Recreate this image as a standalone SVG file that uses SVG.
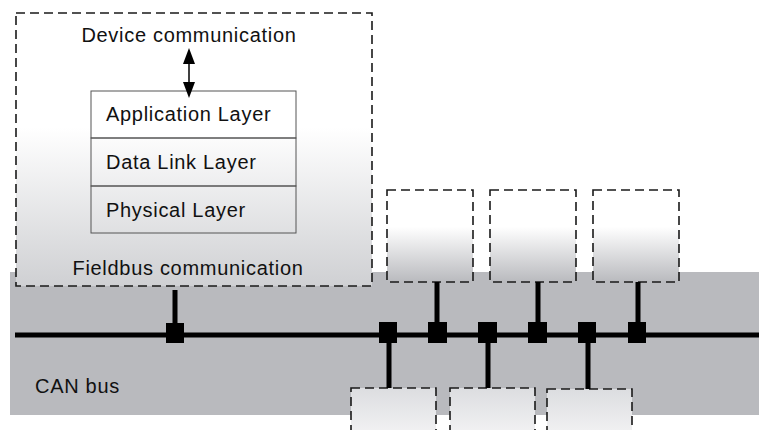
<svg xmlns="http://www.w3.org/2000/svg" width="759" height="430" viewBox="0 0 759 430">
<defs>
<linearGradient id="gMain" x1="0" y1="13" x2="0" y2="286" gradientUnits="userSpaceOnUse">
<stop offset="0" stop-color="#ffffff"/>
<stop offset="0.42" stop-color="#ffffff"/>
<stop offset="1" stop-color="#cfd0d3"/>
</linearGradient>
<linearGradient id="gUp" x1="0" y1="0" x2="0" y2="1">
<stop offset="0" stop-color="#ffffff"/>
<stop offset="0.4" stop-color="#ffffff"/>
<stop offset="1" stop-color="#b9babe"/>
</linearGradient>
<linearGradient id="gLow" x1="0" y1="0" x2="0" y2="1">
<stop offset="0" stop-color="#dcdde0"/>
<stop offset="1" stop-color="#f4f4f5"/>
</linearGradient>
</defs>
<style>
text{font-family:"Liberation Sans",Arial,sans-serif;font-size:20px;letter-spacing:0.7px;fill:#111}
.dash{stroke:#1a1a1a;stroke-width:1.6;stroke-dasharray:9 5}
.layer{fill:none;stroke:#555;stroke-width:1}
.wire{stroke:#000;stroke-width:5}
.sq{fill:#000}
.head{fill:#000}
</style>
<rect id="band" x="10" y="272" width="749" height="143" fill="#b9babe"/>
<g id="device">
<rect class="dash" x="16" y="13" width="356" height="273" fill="url(#gMain)"/>
<text x="189" y="42" text-anchor="middle">Device communication</text>
<text x="188" y="275" text-anchor="middle">Fieldbus communication</text>
</g>
<g id="stack">
<rect x="91" y="91" width="205" height="47" fill="#ffffff" stroke="#555" stroke-width="1"/>
<rect class="layer" x="91" y="138" width="205" height="48"/>
<rect class="layer" x="91" y="186" width="205" height="47"/>
<text x="106" y="121">Application Layer</text>
<text x="106" y="169">Data Link Layer</text>
<text x="106" y="217">Physical Layer</text>
</g>
<g id="nodeU1"><rect class="dash" x="387" y="190" width="86" height="92" fill="url(#gUp)"/></g>
<g id="nodeU2"><rect class="dash" x="490" y="190" width="86" height="92" fill="url(#gUp)"/></g>
<g id="nodeU3"><rect class="dash" x="593" y="190" width="86" height="92" fill="url(#gUp)"/></g>
<g id="nodeL1"><rect class="dash" x="351" y="388" width="85" height="50" fill="url(#gLow)"/></g>
<g id="nodeL2"><rect class="dash" x="450" y="388" width="85" height="50" fill="url(#gLow)"/></g>
<g id="nodeL3"><rect class="dash" x="547" y="389" width="85" height="50" fill="url(#gLow)"/></g>
<text id="canlabel" x="35" y="393">CAN bus</text>
<g id="connectors">
<line x1="189" y1="60" x2="189" y2="86" stroke="#000" stroke-width="1.5"/>
<polygon class="head" points="189,48 183,64 195,64"/>
<polygon class="head" points="189,98 183,82 195,82"/>
<line class="wire" x1="15" y1="335" x2="759" y2="335"/>
<line class="wire" x1="175" y1="290" x2="175" y2="333"/>
<line class="wire" x1="437" y1="282" x2="437" y2="333"/>
<line class="wire" x1="538" y1="282" x2="538" y2="333"/>
<line class="wire" x1="638" y1="282" x2="638" y2="333"/>
<line class="wire" x1="389" y1="333" x2="389" y2="388"/>
<line class="wire" x1="488" y1="333" x2="488" y2="388"/>
<line class="wire" x1="588" y1="333" x2="588" y2="389"/>
<rect class="sq" x="166" y="323" width="18" height="20"/>
<rect class="sq" x="379" y="322" width="18" height="21"/>
<rect class="sq" x="428" y="322" width="19" height="21"/>
<rect class="sq" x="478" y="322" width="19" height="21"/>
<rect class="sq" x="528" y="322" width="19" height="21"/>
<rect class="sq" x="578" y="322" width="18" height="21"/>
<rect class="sq" x="628" y="322" width="18" height="21"/>
</g>
</svg>
